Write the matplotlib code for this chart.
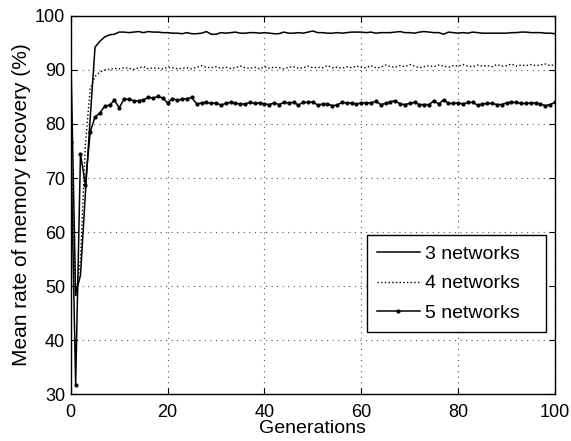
import numpy as np
import matplotlib.pyplot as plt

plt.rcParams['font.family'] = ['Liberation Sans', 'DejaVu Sans']

generations = np.arange(0, 101)

net3 = [93.0, 48.5, 52.0, 67.0, 81.0, 94.2, 95.3, 96.1, 96.5, 96.6,
        97.0, 97.0, 96.9, 97.0, 97.1, 96.9, 97.1, 97.0, 97.0, 96.9,
        96.9, 96.8, 96.8, 96.7, 96.9, 96.7, 96.7, 96.8, 97.1, 96.6,
        96.6, 96.9, 96.8, 96.9, 97.0, 96.8, 96.8, 96.9, 96.9, 96.8,
        96.9, 96.8, 96.7, 96.7, 97.0, 96.8, 96.8, 96.9, 96.8, 97.0,
        97.2, 96.9, 96.9, 96.8, 96.8, 96.9, 96.8, 96.9, 97.0, 97.0,
        97.0, 96.9, 97.0, 96.8, 96.9, 96.9, 96.9, 97.0, 97.1, 96.9,
        96.9, 96.8, 97.0, 97.1, 97.0, 96.9, 96.9, 96.6, 97.0, 96.9,
        96.8, 96.9, 96.8, 97.0, 96.9, 96.8, 96.8, 96.8, 96.8, 96.8,
        96.8, 96.9, 96.9, 97.0, 97.0, 96.9, 96.9, 96.9, 96.8, 96.8,
        96.7]

net4 = [77.0, 48.0, 55.0, 76.0, 86.5, 88.8, 89.6, 90.0, 90.1, 90.3,
        90.2, 90.4, 90.3, 90.1, 90.4, 90.6, 90.2, 90.4, 90.3, 90.2,
        90.5, 90.4, 90.2, 90.3, 90.4, 90.2, 90.5, 90.8, 90.5, 90.4,
        90.6, 90.3, 90.5, 90.3, 90.4, 90.7, 90.4, 90.3, 90.5, 90.2,
        90.6, 90.3, 90.5, 90.4, 90.2, 90.5, 90.6, 90.3, 90.4, 90.7,
        90.4, 90.5, 90.4, 90.8, 90.4, 90.5, 90.3, 90.6, 90.4, 90.7,
        90.5, 90.4, 90.8, 90.4, 90.5, 90.9, 90.6, 90.5, 90.8, 90.6,
        91.0, 90.7, 90.4, 90.6, 90.8, 90.6, 90.9, 90.7, 90.5, 90.8,
        90.7, 91.0, 90.7, 90.6, 90.9, 90.7, 90.8, 90.6, 91.0, 90.7,
        90.8, 91.1, 90.7, 90.9, 90.8, 91.0, 90.8, 90.9, 91.1, 90.8,
        91.0]

net5 = [76.7, 31.8, 74.5, 68.8, 78.5, 81.3, 82.0, 83.3, 83.5, 84.4,
        83.0, 84.6, 84.6, 84.3, 84.3, 84.5, 84.9, 84.8, 85.1, 84.8,
        83.9, 84.7, 84.4, 84.6, 84.7, 84.9, 83.7, 83.9, 84.0, 83.8,
        83.9, 83.5, 83.8, 84.0, 83.8, 83.7, 83.7, 84.0, 83.8, 83.9,
        83.7, 83.6, 83.9, 83.6, 84.0, 83.9, 84.0, 83.5, 84.0, 84.0,
        84.1, 83.5, 83.7, 83.7, 83.4, 83.5, 84.0, 83.9, 83.9, 83.7,
        83.9, 83.9, 83.9, 84.2, 83.6, 83.8, 84.1, 84.3, 83.7, 83.6,
        83.8, 84.0, 83.6, 83.6, 83.6, 84.3, 83.7, 84.5, 83.8, 83.8,
        83.9, 83.7, 84.0, 84.0, 83.5, 83.7, 83.8, 83.8, 83.6, 83.6,
        83.9, 84.0, 84.0, 83.8, 83.8, 83.9, 83.9, 83.7, 83.4, 83.6,
        84.0]

fig = plt.figure(figsize=(5.71, 4.41), dpi=100)
ax = fig.add_axes([0.124, 0.106, 0.848, 0.858])

ax.plot(generations, net3, '-', color='black', lw=1.1, label='3 networks')
ax.plot(generations, net4, ':', color='black', lw=1.0, label='4 networks')
ax.plot(generations, net5, '-', color='black', lw=1.1, marker='.', ms=4,
        label='5 networks')

ax.set_xlim(0, 100)
ax.set_ylim(30, 100)
ax.set_xticks(range(0, 101, 20))
ax.set_yticks(range(30, 101, 10))
ax.grid(True, linestyle=(0, (1, 4)), color='#555555', lw=0.8)
ax.tick_params(direction='in', top=True, right=True, labelsize=13,
               length=4, width=0.8)
ax.tick_params(axis='x', pad=7)
ax.tick_params(axis='y', pad=4)
for s in ax.spines.values():
    s.set_linewidth(1.0)

ax.set_xlabel('Generations', fontsize=14, labelpad=-1)
ax.set_ylabel('Mean rate of memory recovery (%)', fontsize=15, labelpad=3)

leg = ax.legend(loc='lower left', bbox_to_anchor=(0.612, 0.165, 0.37, 0.254),
                mode='expand', borderaxespad=0, fontsize=14, fancybox=False,
                framealpha=1, edgecolor='black', handlelength=2.2,
                handletextpad=0.3, borderpad=0.5, labelspacing=0.62)
leg.get_frame().set_linewidth(1.0)

fig.savefig('out.png', dpi=100)
